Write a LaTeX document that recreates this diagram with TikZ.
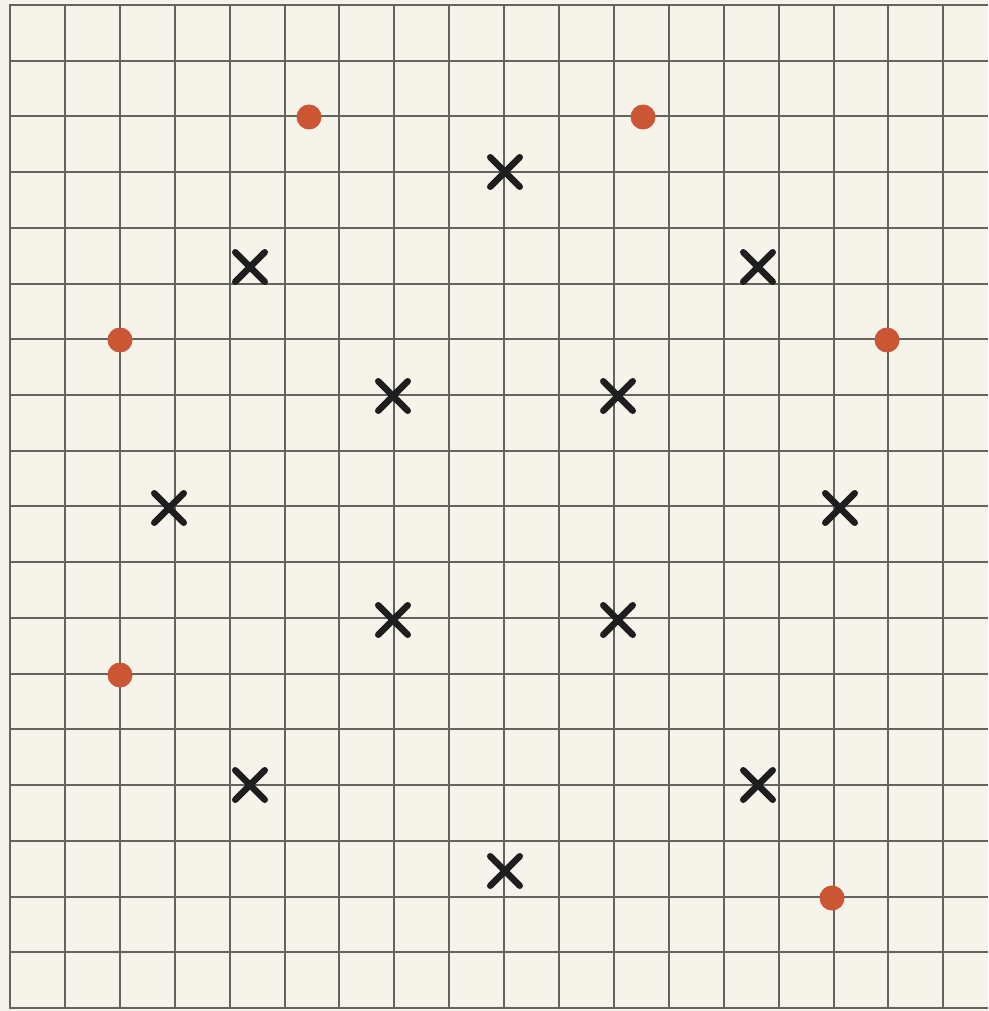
\documentclass[tikz,border=0pt]{standalone}
\usetikzlibrary{shapes.misc}
\definecolor{paper}{HTML}{F6F3EB}
\definecolor{gridc}{HTML}{64645F}
\definecolor{dotred}{HTML}{CB5634}
\definecolor{xblack}{HTML}{1E1E1E}
\tikzset{
  gridline/.style={draw=gridc, line width=2pt},
  borderline/.style={draw=gridc, line width=2.6pt},
  reddot/.style={circle, fill=dotred, inner sep=0pt, minimum size=25pt},
  xmark/.style={cross out, draw=xblack, line width=6.5pt, inner sep=0pt, minimum size=23pt, line cap=round}
}
\begin{document}
\begin{tikzpicture}[x=1pt, y=-1pt]
\useasboundingbox (0,0) rectangle (988,1011);
\fill[paper] (0,0) rectangle (988,1011);
% vertical grid lines
\foreach \k in {1,...,17} {
  \draw[gridline] ({10+54.9*\k},5) -- ({10+54.9*\k},1008);
}
% horizontal grid lines
\foreach \j in {1,...,17} {
  \draw[gridline] (10,{5+55.72*\j}) -- (988,{5+55.72*\j});
}
% border
\draw[borderline] (988,5) -- (10,5) -- (10,1008) -- (988,1008);
% red dots
\node[reddot] (d1) at (309,117) {};
\node[reddot] (d2) at (643,117) {};
\node[reddot] (d3) at (120,340) {};
\node[reddot] (d4) at (887,340) {};
\node[reddot] (d5) at (120,675) {};
\node[reddot] (d6) at (832,898) {};
% crosses
\node[xmark] (x1) at (505,172) {};
\node[xmark] (x2) at (250,267) {};
\node[xmark] (x3) at (758,267) {};
\node[xmark] (x4) at (393,396) {};
\node[xmark] (x5) at (618,396) {};
\node[xmark] (x6) at (169,508) {};
\node[xmark] (x7) at (840,508) {};
\node[xmark] (x8) at (393,620) {};
\node[xmark] (x9) at (618,620) {};
\node[xmark] (x10) at (250,785) {};
\node[xmark] (x11) at (758,785) {};
\node[xmark] (x12) at (505,871) {};
\end{tikzpicture}
\end{document}
